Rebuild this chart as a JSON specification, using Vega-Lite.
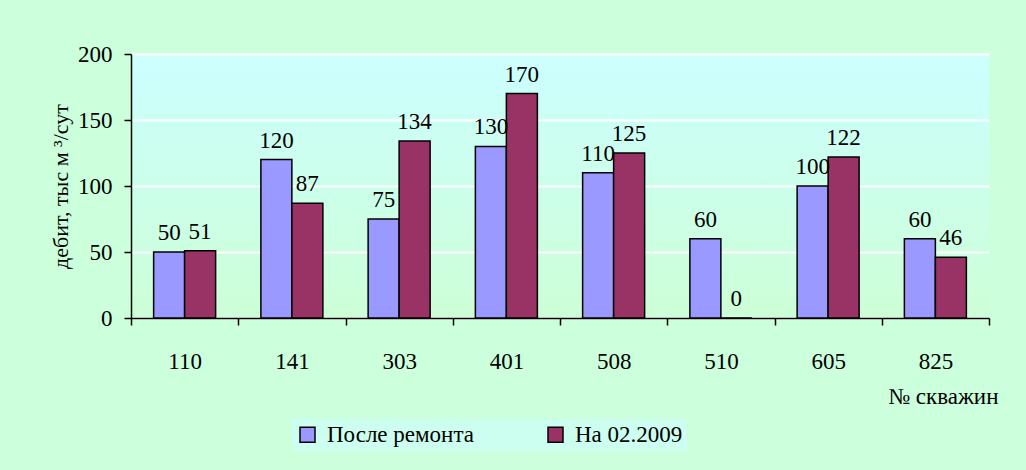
{
  "$schema": "https://vega.github.io/schema/vega-lite/v6.json",
  "width": 858,
  "height": 264,
  "autosize": {"type": "none"},
  "padding": {"left": 131, "top": 54, "right": 37, "bottom": 152},
  "background": "#CCFFDC",
  "config": {
    "font": "Liberation Serif",
    "text": {"font": "Liberation Serif"},
    "axis": {"labelFont": "Liberation Serif", "titleFont": "Liberation Serif"},
    "legend": {"labelFont": "Liberation Serif", "titleFont": "Liberation Serif"},
    "view": {
      "stroke": null,
      "fill": {"gradient": "linear", "x1": 0, "y1": 0, "x2": 0, "y2": 1,
        "stops": [{"offset": 0, "color": "#CCFFFF"}, {"offset": 1, "color": "#CCFFD6"}]}
    }
  },
  "data": {
    "values": [
      {"well": "110", "series": "После ремонта", "value": 50},
      {"well": "110", "series": "На 02.2009", "value": 51},
      {"well": "141", "series": "После ремонта", "value": 120},
      {"well": "141", "series": "На 02.2009", "value": 87},
      {"well": "303", "series": "После ремонта", "value": 75},
      {"well": "303", "series": "На 02.2009", "value": 134},
      {"well": "401", "series": "После ремонта", "value": 130},
      {"well": "401", "series": "На 02.2009", "value": 170},
      {"well": "508", "series": "После ремонта", "value": 110},
      {"well": "508", "series": "На 02.2009", "value": 125},
      {"well": "510", "series": "После ремонта", "value": 60},
      {"well": "510", "series": "На 02.2009", "value": 0},
      {"well": "605", "series": "После ремонта", "value": 100},
      {"well": "605", "series": "На 02.2009", "value": 122},
      {"well": "825", "series": "После ремонта", "value": 60},
      {"well": "825", "series": "На 02.2009", "value": 46}
    ]
  },
  "encoding": {
    "x": {
      "field": "well", "type": "nominal", "sort": null,
      "scale": {"paddingInner": 0, "paddingOuter": 0},
      "axis": {
        "title": "№ скважин",
        "labelAngle": 0,
        "labelFont": "Liberation Serif",
        "labelFontSize": 23,
        "labelColor": "black",
        "labelBaseline": "alphabetic",
        "labelPadding": 43,
        "tickBand": "extent",
        "tickSize": 7,
        "tickColor": "black",
        "tickWidth": 1.5,
        "domainColor": "black",
        "domainWidth": 1.5,
        "grid": false,
        "titleFont": "Liberation Serif",
        "titleFontSize": 23,
        "titleFontWeight": "normal",
        "titleColor": "black",
        "titleAlign": "right",
        "titleAnchor": null,
        "titleBaseline": "alphabetic",
        "titleX": 867,
        "titleY": 85
      }
    },
    "xOffset": {
      "field": "series", "type": "nominal",
      "sort": ["После ремонта", "На 02.2009"],
      "scale": {"paddingInner": 0, "paddingOuter": 0.73}
    },
    "y": {
      "field": "value", "type": "quantitative",
      "scale": {"domain": [0, 200], "nice": false},
      "axis": {
        "title": "дебит, тыс м ³/сут",
        "values": [0, 50, 100, 150, 200],
        "labelFont": "Liberation Serif",
        "labelFontSize": 23,
        "labelColor": "black",
        "labelPadding": 12,
        "tickSize": 7,
        "tickColor": "black",
        "tickWidth": 1.5,
        "domainColor": "black",
        "domainWidth": 1.5,
        "grid": true,
        "gridColor": "white",
        "gridWidth": 2,
        "gridOpacity": 1,
        "titleFont": "Liberation Serif",
        "titleFontSize": 22,
        "titleFontWeight": "normal",
        "titleColor": "black",
        "titleAlign": "center",
        "titleBaseline": "middle",
        "titleX": -71,
        "titleY": 132
      }
    }
  },
  "layer": [
    {
      "mark": {"type": "bar", "stroke": "black", "strokeWidth": 1.5},
      "encoding": {
        "color": {
          "field": "series", "type": "nominal",
          "sort": ["После ремонта", "На 02.2009"],
          "scale": {"domain": ["После ремонта", "На 02.2009"], "range": ["#9999FF", "#993366"]},
          "legend": {
            "title": null,
            "orient": "none",
            "legendX": 161,
            "legendY": 365,
            "direction": "horizontal",
            "columns": 2,
            "columnPadding": 70,
            "padding": 4,
            "fillColor": "#CCFFF0",
            "symbolType": "square",
            "symbolSize": 225,
            "symbolStrokeColor": "black",
            "symbolStrokeWidth": 1.5,
            "symbolOpacity": 1,
            "labelFont": "Liberation Serif",
            "labelFontSize": 23,
            "labelColor": "black",
            "labelOffset": 8,
            "labelLimit": 400
          }
        }
      }
    },
    {
      "mark": {"type": "text", "dy": -12, "baseline": "alphabetic", "font": "Liberation Serif", "fontSize": 23, "color": "black"},
      "encoding": {"text": {"field": "value", "type": "quantitative"}}
    }
  ]
}
